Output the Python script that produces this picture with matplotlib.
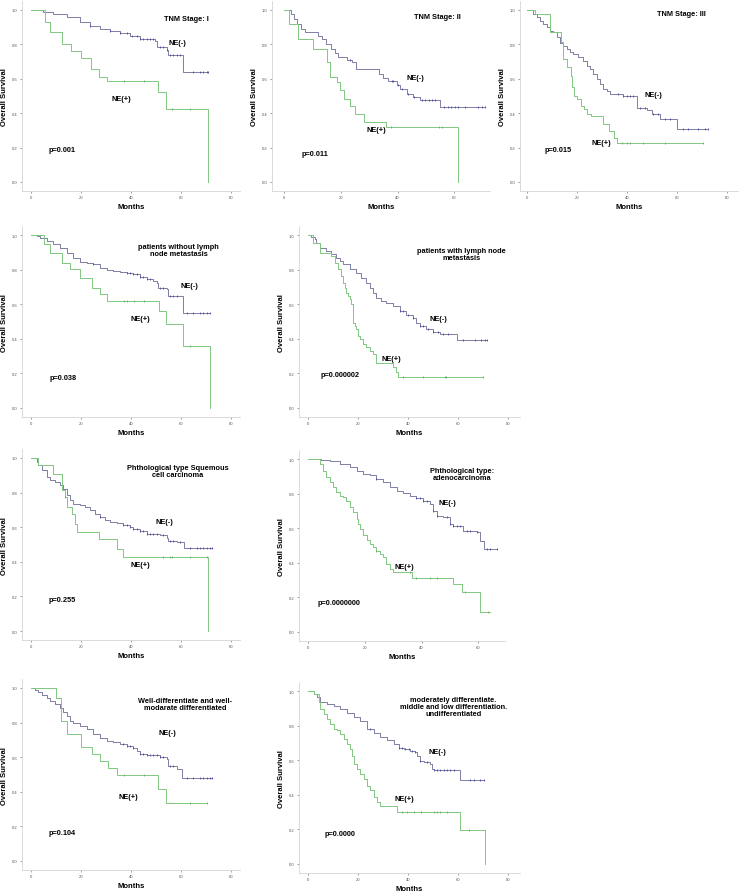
import numpy as np
import matplotlib
matplotlib.use("Agg")
import matplotlib.pyplot as plt

plt.rcParams["font.family"] = ["Liberation Sans", "DejaVu Sans"]

# ---- data (months, survival) ----
titles = ["TNM Stage: I", "TNM Stage: II", "TNM Stage: III",
          "patients without lymph\nnode metastasis",
          "patients with lymph node\nmetastasis",
          "Phthological type Squemous\ncell carcinoma",
          "Phthological type:\nadenocarcinoma",
          "Well-differentiate and well-\nmodarate differentiated",
          "moderately differentiate.\nmiddle and low differentiation.\nundifferentiated"]
p_values = ["p=0.001", "p=0.011", "p=0.015", "p=0.038", "p=0.000002",
            "p=0.255", "p=0.0000000", "p=0.104", "p=0.0000"]

# panel 1
t1_neg = [0, 4.9, 8.9, 14.3, 19.6, 23.6, 27.6, 31.6, 35.6, 39.6, 43.6, 49.6, 50.3, 54.3, 54.9, 60.7, 70.9]
s1_neg = [1.0, 0.99, 0.977, 0.957, 0.928, 0.905, 0.89, 0.876, 0.864, 0.851, 0.831, 0.818, 0.787, 0.767, 0.74, 0.638, 0.638]
c1_neg = [23.6, 31.6, 35.6, 38.3, 40.3, 42.3, 43.6, 44.9, 46.3, 47.6, 48.9, 51.6, 52.9,
          54.3, 55.6, 56.9, 58.3, 59.6, 64.9, 67.6, 68.9, 70.3, 70.9]
t1_pos = [0, 5.6, 7.6, 12.3, 15.9, 20.0, 23.9, 27.2, 30.3, 50.9, 53.9, 70.9]
s1_pos = [1.0, 0.932, 0.87, 0.80, 0.764, 0.72, 0.657, 0.608, 0.589, 0.525, 0.424, 0.0]
c1_pos = [37.2, 45.2, 56.3, 63.6]

# panel 2
t2_neg = [0, 2.3, 3.5, 4.7, 5.9, 7.4, 12.1, 13.3, 14.8, 16.4, 18.0, 19.1, 22.1, 23.8, 25.4,
          33.6, 34.7, 36.7, 39.7, 40.8, 43.2, 45.5, 47.9, 54.9, 70.8]
s2_neg = [1.0, 0.977, 0.948, 0.919, 0.89, 0.87, 0.851, 0.832, 0.803, 0.774, 0.75, 0.725, 0.712, 0.70, 0.657,
          0.628, 0.603, 0.59, 0.565, 0.538, 0.513, 0.493, 0.474, 0.435, 0.435]
c2_neg = [23.2, 37.9, 38.5, 40.2, 41.6, 43.5, 45.8, 48.5, 49.7, 50.9, 52.1, 53.3,
          56.5, 57.7, 58.9, 60.1, 61.3, 63.7, 68.4, 69.6, 70.8]
t2_pos = [0, 1.9, 5.0, 10.1, 15.0, 16.2, 18.8, 19.7, 21.1, 23.2, 25.0, 28.2, 35.9, 61.4]
s2_pos = [1.0, 0.919, 0.83, 0.774, 0.695, 0.608, 0.58, 0.536, 0.482, 0.44, 0.395, 0.347, 0.319, 0.0]
c2_pos = [37.5, 54.5, 55.7]

# panel 3
t3_neg = [0, 2.5, 3.9, 5.2, 6.5, 7.9, 9.2, 10.5, 11.9, 13.2, 14.5, 15.9, 17.2, 18.5, 20.5, 22.5,
          23.9, 25.2, 26.5, 27.9, 29.2, 30.5, 31.9, 33.2, 38.5, 43.9, 47.9, 49.9, 53.2, 59.9, 72.5]
s3_neg = [1.0, 0.977, 0.957, 0.938, 0.918, 0.899, 0.88, 0.87, 0.841, 0.806, 0.792, 0.773, 0.753, 0.744,
          0.724, 0.705, 0.676, 0.656, 0.627, 0.598, 0.569, 0.54, 0.53, 0.511, 0.501, 0.433, 0.417,
          0.394, 0.365, 0.311, 0.311]
c3_neg = [36.5, 38.5, 39.9, 41.2, 42.5, 45.2, 47.2, 50.5, 52.5, 55.2, 57.2, 62.5, 64.5, 68.5, 71.2, 72.5]
t3_pos = [0, 3.2, 9.2, 13.5, 14.3, 16.1, 17.5, 18.1, 18.8, 20.1, 21.5, 22.8, 24.1, 25.5, 30.3,
          32.9, 34.8, 35.9, 70.5]
s3_pos = [1.0, 0.977, 0.87, 0.812, 0.715, 0.666, 0.617, 0.55, 0.501, 0.482, 0.443, 0.423, 0.394,
          0.384, 0.336, 0.297, 0.258, 0.225, 0.225]
c3_pos = [37.9, 39.9, 41.2, 46.5, 55.2, 70.5]

# panel 4
t4_neg = [0, 2.3, 3.6, 6.3, 8.9, 11.6, 14.3, 16.9, 19.6, 22.3, 24.9, 27.6, 30.3, 32.9, 35.6, 38.3,
          40.9, 43.6, 46.3, 48.9, 50.3, 50.9, 54.3, 54.9, 60.7, 71.6]
s4_neg = [1.0, 0.994, 0.985, 0.965, 0.946, 0.927, 0.898, 0.869, 0.844, 0.84, 0.831, 0.812, 0.798,
          0.792, 0.787, 0.779, 0.773, 0.758, 0.748, 0.735, 0.725, 0.696, 0.687, 0.648, 0.552, 0.552]
c4_neg = [24.9, 38.3, 39.6, 40.9, 42.3, 43.6, 44.9, 46.3, 47.6, 51.6, 52.9, 55.6, 56.9, 58.3,
          62.3, 64.9, 67.6, 68.9, 70.3, 71.6]
t4_pos = [0, 5.3, 7.6, 12.3, 15.6, 19.6, 24.3, 27.6, 30.3, 51.2, 53.9, 60.7, 71.6]
s4_pos = [1.0, 0.946, 0.898, 0.84, 0.802, 0.754, 0.696, 0.658, 0.619, 0.562, 0.485, 0.36, 0.0]
c4_pos = [37.2, 38.5, 41.2, 45.2, 63.6]

# panel 5
t5_neg = [0, 1.3, 2.7, 3.3, 4.7, 7.3, 9.3, 11.3, 12.7, 14.0, 16.7, 19.3, 21.3, 23.3, 24.7, 26.0,
          27.3, 29.3, 31.3, 34.0, 36.7, 39.3, 42.0, 43.3, 44.7, 47.3, 50.0, 52.7, 59.6, 71.6]
s5_neg = [1.0, 0.99, 0.975, 0.956, 0.927, 0.908, 0.888, 0.869, 0.85, 0.831, 0.802, 0.783, 0.754,
          0.725, 0.696, 0.667, 0.638, 0.619, 0.606, 0.587, 0.562, 0.54, 0.523, 0.494, 0.475,
          0.456, 0.44, 0.427, 0.392, 0.392]
c5_neg = [36.7, 38.0, 40.0, 42.0, 44.7, 46.0, 48.0, 50.0, 52.0, 54.0, 56.0, 62.0, 66.7, 69.3, 70.7, 71.6]
t5_pos = [0, 2.0, 4.7, 9.3, 10.7, 12.0, 13.3, 14.0, 14.7, 15.3, 16.0, 16.7, 17.3, 18.0, 18.7, 19.3,
          20.0, 20.7, 22.0, 23.3, 24.7, 26.0, 27.3, 34.0, 35.3, 36.0, 70.0]
s5_pos = [1.0, 0.956, 0.898, 0.879, 0.84, 0.802, 0.763, 0.725, 0.696, 0.667, 0.648, 0.629, 0.60,
          0.494, 0.475, 0.456, 0.417, 0.398, 0.369, 0.35, 0.331, 0.312, 0.263, 0.235, 0.206,
          0.177, 0.177]
c5_pos = [38.0, 46.0, 54.7, 55.3, 70.0]

# panel 6
t6_neg = [0, 2.3, 2.9, 4.3, 6.3, 7.6, 9.6, 11.6, 12.9, 14.3, 15.6, 16.9, 19.6, 21.6, 23.6, 25.6,
          27.6, 29.6, 31.6, 34.3, 36.9, 39.6, 40.9, 43.6, 46.3, 48.9, 51.6, 54.3, 54.9, 58.3, 61.2, 72.3]
s6_neg = [1.0, 0.977, 0.958, 0.929, 0.89, 0.871, 0.861, 0.842, 0.823, 0.784, 0.755, 0.736, 0.726,
          0.717, 0.697, 0.678, 0.659, 0.644, 0.63, 0.624, 0.611, 0.601, 0.592, 0.578, 0.563,
          0.559, 0.553, 0.539, 0.52, 0.514, 0.48, 0.48]
c6_neg = [27.6, 36.9, 38.3, 39.6, 40.9, 42.3, 43.6, 44.9, 46.3, 47.6, 48.9, 50.3, 52.9, 55.6,
          56.9, 59.6, 63.6, 66.3, 67.6, 68.9, 70.3, 71.6, 72.3]
t6_pos = [0, 2.9, 8.7, 12.3, 13.6, 14.3, 16.3, 17.6, 18.3, 27.2, 34.3, 36.9, 70.9]
s6_pos = [1.0, 0.958, 0.909, 0.813, 0.775, 0.717, 0.678, 0.62, 0.572, 0.534, 0.476, 0.428, 0.0]
c6_pos = [13.6, 52.9, 55.6, 56.3, 63.6, 70.3]

# panel 7
t7_neg = [0, 4.7, 7.6, 11.2, 14.7, 17.1, 19.4, 21.8, 24.1, 26.5, 28.8, 31.2, 33.5, 35.9, 38.2,
          40.6, 42.9, 44.1, 45.3, 47.6, 50.0, 51.2, 54.7, 59.4, 60.6, 61.8, 66.6]
s7_neg = [1.0, 0.996, 0.987, 0.971, 0.952, 0.933, 0.913, 0.91, 0.885, 0.865, 0.837, 0.817, 0.802,
          0.788, 0.773, 0.76, 0.74, 0.698, 0.673, 0.663, 0.625, 0.615, 0.583, 0.577, 0.525,
          0.477, 0.477]
c7_neg = [24.1, 38.2, 39.4, 40.6, 41.8, 44.1, 45.3, 48.8, 50.0, 51.2, 52.4, 53.5, 55.9, 57.1,
          59.4, 62.9, 64.1, 66.6]
t7_pos = [0, 4.4, 5.3, 6.5, 7.6, 8.8, 10.0, 11.2, 12.4, 13.5, 14.7, 15.9, 17.1, 17.6, 18.2,
          19.4, 20.6, 21.8, 22.9, 24.1, 25.3, 26.5, 27.6, 28.8, 30.0, 36.5, 51.2, 54.1, 60.6, 64.1]
s7_pos = [1.0, 0.971, 0.933, 0.894, 0.865, 0.837, 0.808, 0.788, 0.779, 0.76, 0.721, 0.692, 0.654,
          0.625, 0.596, 0.558, 0.529, 0.51, 0.49, 0.471, 0.452, 0.433, 0.394, 0.365, 0.346,
          0.313, 0.279, 0.231, 0.115, 0.115]
c7_pos = [24.1, 35.9, 38.2, 42.9, 45.3, 55.3, 63.5]

# panel 8
t8_neg = [0, 1.6, 2.9, 4.3, 6.3, 7.6, 9.6, 11.6, 12.9, 14.3, 15.6, 16.9, 19.6, 22.3, 24.9, 27.6,
          30.3, 32.9, 35.6, 38.3, 40.9, 42.3, 43.6, 46.3, 48.9, 51.6, 54.3, 54.9, 58.3, 60.3, 72.3]
s8_neg = [1.0, 0.99, 0.975, 0.96, 0.94, 0.927, 0.908, 0.883, 0.86, 0.837, 0.812, 0.798, 0.783,
          0.763, 0.735, 0.71, 0.696, 0.687, 0.677, 0.663, 0.652, 0.633, 0.619, 0.613, 0.61,
          0.60, 0.587, 0.548, 0.533, 0.479, 0.479]
c8_neg = [36.9, 38.3, 39.6, 40.9, 43.6, 44.9, 46.3, 47.6, 48.9, 50.3, 51.6, 52.9, 55.6, 56.9,
          62.3, 64.9, 67.6, 68.9, 70.3, 71.6, 72.3]
t8_pos = [0, 10.0, 11.9, 14.3, 20.0, 24.3, 27.6, 30.9, 34.3, 50.9, 53.9, 70.3]
s8_pos = [1.0, 0.94, 0.81, 0.735, 0.658, 0.62, 0.58, 0.535, 0.50, 0.417, 0.335, 0.335]
c8_pos = [37.2, 45.2, 63.6, 70.3]

# panel 9
t9_neg = [0, 2.3, 3.6, 4.9, 7.6, 10.3, 12.9, 15.6, 18.3, 20.9, 23.6, 26.3, 28.9, 31.6, 34.3, 36.3,
          38.3, 40.9, 42.9, 43.6, 44.9, 46.3, 48.9, 49.6, 50.3, 60.7, 70.3]
s9_neg = [1.0, 0.985, 0.965, 0.936, 0.927, 0.913, 0.894, 0.875, 0.849, 0.824, 0.782, 0.759, 0.734,
          0.714, 0.695, 0.672, 0.666, 0.656, 0.647, 0.624, 0.598, 0.589, 0.579, 0.55, 0.541,
          0.486, 0.486]
c9_neg = [24.9, 36.3, 37.6, 38.9, 40.3, 41.6, 42.9, 44.9, 47.6, 50.3, 51.6, 52.9, 54.3, 55.6,
          56.9, 58.3, 64.9, 66.3, 68.9, 70.3]
t9_pos = [0, 2.3, 4.3, 4.9, 6.3, 7.6, 8.9, 10.3, 11.6, 12.9, 14.3, 15.6, 16.9, 17.6, 18.3, 19.6,
          20.9, 22.3, 23.6, 24.9, 26.3, 27.6, 28.9, 35.6, 60.7, 70.9]
s9_pos = [1.0, 0.985, 0.936, 0.898, 0.869, 0.84, 0.811, 0.782, 0.772, 0.753, 0.724, 0.695, 0.666,
          0.627, 0.579, 0.55, 0.521, 0.492, 0.45, 0.425, 0.386, 0.357, 0.338, 0.299, 0.199, 0.0]
c9_pos = [37.6, 39.6, 42.3, 45.0, 50.3, 51.6, 52.9, 55.6, 64.3]

curves = [
    (t1_neg, s1_neg, c1_neg, t1_pos, s1_pos, c1_pos),
    (t2_neg, s2_neg, c2_neg, t2_pos, s2_pos, c2_pos),
    (t3_neg, s3_neg, c3_neg, t3_pos, s3_pos, c3_pos),
    (t4_neg, s4_neg, c4_neg, t4_pos, s4_pos, c4_pos),
    (t5_neg, s5_neg, c5_neg, t5_pos, s5_pos, c5_pos),
    (t6_neg, s6_neg, c6_neg, t6_pos, s6_pos, c6_pos),
    (t7_neg, s7_neg, c7_neg, t7_pos, s7_pos, c7_pos),
    (t8_neg, s8_neg, c8_neg, t8_pos, s8_pos, c8_pos),
    (t9_neg, s9_neg, c9_neg, t9_pos, s9_pos, c9_pos),
]

# ---- layout (pixels): spine x, x of month 0, px per month, right end, y of 1.0, y of 0.0 ----
W, H = 740, 895
geom = [
    (22, 31, 2.5, 240, 11, 183),
    (272, 284, 2.84, 490, 11, 183),
    (520, 527, 2.5, 738, 11, 183),
    (22, 31, 2.5, 240, 236, 409),
    (299, 308, 2.5, 520, 236, 409),
    (22, 31, 2.5, 240, 459, 632),
    (299, 308, 2.84, 505, 460, 633),
    (22, 31, 2.5, 240, 689, 862),
    (299, 308, 2.5, 520, 692, 865),
]
# text positions in data units: title, NE(-), NE(+), p
labels_at = [
    ((62, 0.953), (58.4, 0.81), (36, 0.488), (12.4, 0.19)),
    ((54.1, 0.963), (46.1, 0.605), (32.4, 0.306), (10.8, 0.168)),
    ((61.9, 0.977), (50.5, 0.51), (29.9, 0.229), (12.5, 0.19)),
    ((59.1, 0.912), (63.3, 0.71), (43.6, 0.517), (12.9, 0.177)),
    ((61.5, 0.892), (52.3, 0.517), (33.3, 0.288), (12.7, 0.192)),
    ((58.7, 0.923), (53.3, 0.634), (43.6, 0.385), (12.5, 0.183)),
    ((54.1, 0.913), (49.1, 0.75), (33.9, 0.379), (10.8, 0.173)),
    ((61.6, 0.91), (54.5, 0.744), (38.9, 0.375), (12.3, 0.163)),
    ((58.1, 0.909), (51.6, 0.651), (38.5, 0.38), (12.7, 0.178)),
]

NEG_C = "#7e7ea4"
NEG_M = "#3c3ca8"
POS_C = "#80c880"
POS_M = "#5aac5a"
Y_LO, Y_HI = -0.052, 1.05
TXT = dict(fontsize=5.3, fontweight="bold", ha="center", va="center")


def km(ax, t, s, cens, color, mcolor):
    ax.step(t, s, where="post", color=color, lw=0.7)
    t = np.asarray(t)
    s = np.asarray(s)
    idx = np.searchsorted(t, cens, side="right") - 1
    ax.plot(cens, s[idx], ls="none", marker="|", ms=2.0, mew=0.55, color=mcolor)


fig = plt.figure(figsize=(W / 100, H / 100), dpi=100)
for i, (g, c, lab) in enumerate(zip(geom, curves, labels_at)):
    spine, x0, ppm, right, y1, y0 = g
    ppu = y0 - y1
    bottom_px = y0 - Y_LO * ppu
    top_px = y0 - Y_HI * ppu
    ax = fig.add_axes([spine / W, 1 - bottom_px / H, (right - spine) / W, (bottom_px - top_px) / H])
    ax.set_xlim((spine - x0) / ppm, (right - x0) / ppm)
    ax.set_ylim(Y_LO, Y_HI)

    km(ax, c[0], c[1], c[2], NEG_C, NEG_M)
    km(ax, c[3], c[4], c[5], POS_C, POS_M)

    ax.text(*lab[0], titles[i], linespacing=1.0, **TXT)
    ax.text(*lab[1], "NE(-)", **TXT)
    ax.text(*lab[2], "NE(+)", **TXT)
    ax.text(*lab[3], p_values[i], **TXT)

    ax.set_xticks(np.arange(0, ax.get_xlim()[1] + 0.1, 20))
    ax.set_yticks(np.arange(0, 1.01, 0.2))
    ax.set_yticklabels([f"{v:.1f}" for v in np.arange(0, 1.01, 0.2)])
    ax.tick_params(labelsize=3, colors="#555555", length=1.5, width=0.4, pad=1.5)
    ax.set_xlabel("Months", fontsize=5.5, fontweight="bold", labelpad=3)
    ax.set_ylabel("Overall Survival", fontsize=5.5, fontweight="bold", labelpad=3)
    for side in ("top", "right"):
        ax.spines[side].set_visible(False)
    for side in ("left", "bottom"):
        ax.spines[side].set_color("#d4d4d4")
        ax.spines[side].set_linewidth(0.6)

fig.savefig("out.png", dpi=100)
